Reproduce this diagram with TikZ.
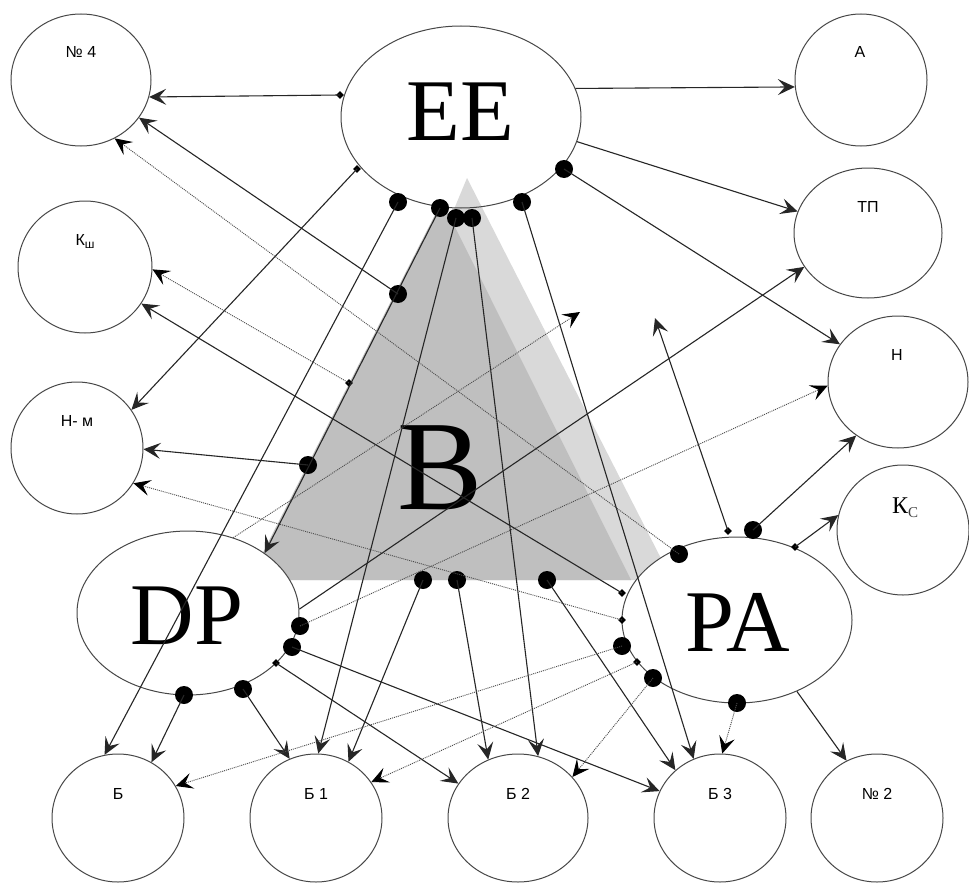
\documentclass[tikz,border=0pt]{standalone}
\usepackage{fontspec}
\setmainfont{Liberation Serif}
\newfontfamily\labfont{Liberation Sans}
\usetikzlibrary{arrows.meta,shapes.geometric}
\begin{document}
\begin{tikzpicture}[x=1pt,y=-1pt,
  ell/.style={ellipse,draw=black!72,line width=1pt,inner sep=0pt},
  bigdot/.style={circle,fill=black,inner sep=0pt,minimum size=18pt},
  dmd/.style={diamond,fill=black,inner sep=0pt,minimum size=8pt},
  conn/.style={draw=black!85,line width=1.1pt,-{Stealth[length=17pt,width=16pt,inset=7pt]}},
  dconn/.style={draw=black!70,line width=0.9pt,dash pattern=on 1pt off 1pt,-{Stealth[length=17pt,width=16pt,inset=7pt,black]}},
  sm/.style={font=\labfont\fontsize{16}{16}\selectfont,anchor=base,inner sep=0pt},
  bigtxt/.style={font=\fontsize{88}{88}\selectfont,anchor=base,inner sep=0pt}
]
\fill[white] (0,0) rectangle (969,883);
\useasboundingbox (0,0) rectangle (969,883);
% triangles
\fill[black!15] (467,178) -- (672,580) -- (300,580) -- cycle;
\fill[black!25] (442,201) -- (631,580) -- (249,580) -- cycle;
% ellipses / circles
\node[ell,minimum width=240pt,minimum height=182pt] (EE) at (461,117) {};
\node[ell,minimum width=140pt,minimum height=132pt] (n4) at (81,80) {};
\node[ell,minimum width=134pt,minimum height=132pt] (ksh) at (85,267) {};
\node[ell,minimum width=132pt,minimum height=132pt] (nm) at (77,448) {};
\node[ell,fill=white,minimum width=222pt,minimum height=164pt] (DP) at (188,613) {};
\node[ell,fill=white,minimum width=230pt,minimum height=166pt] (PA) at (737,620) {};
\node[ell,minimum width=132pt,minimum height=128pt] (b) at (118,818) {};
\node[ell,minimum width=132pt,minimum height=128pt] (b1) at (316,818) {};
\node[ell,minimum width=140pt,minimum height=128pt] (b2) at (518,818) {};
\node[ell,minimum width=132pt,minimum height=128pt] (b3) at (720,818) {};
\node[ell,minimum width=132pt,minimum height=128pt] (n2) at (877,818) {};
\node[ell,minimum width=132pt,minimum height=130pt] (kc) at (903,530) {};
\node[ell,minimum width=140pt,minimum height=132pt] (nh) at (898,382) {};
\node[ell,minimum width=148pt,minimum height=130pt] (tp) at (868,233) {};
\node[ell,minimum width=132pt,minimum height=132pt] (a) at (861,80) {};
% big labels
\node[bigtxt] (tEE) at (460,140) {EE};
\node[bigtxt] (tDP) at (187,644) {DP};
\node[bigtxt] (tPA) at (738,651) {PA};
\node[bigtxt,font=\fontsize{128}{128}\selectfont] (tB) at (440,509) {B};
% small labels
\node[sm] (ln4) at (81,58) {№ 4};
\node[sm] (la) at (860,58) {А};
\node[sm] (ltp) at (868,212) {ТП};
\node[sm] (lnh) at (897,360) {Н};
\node[anchor=base,inner sep=0pt] (lkc) at (905,513) {{\fontsize{24}{24}\selectfont К}{\fontsize{15}{15}\selectfont\color{black!75}\raisebox{-4pt}{C}}};
\node[sm] (lksh) at (85,245) {К\raisebox{-3pt}{\fontsize{12}{12}\selectfont ш}};
\node[sm] (lnm) at (77,426) {Н- м};
\node[sm] (lb) at (118,799) {Б};
\node[sm] (lb1) at (316,799) {Б 1};
\node[sm] (lb2) at (518,799) {Б 2};
\node[sm] (lb3) at (720,799) {Б 3};
\node[sm] (ln2) at (877,799) {№ 2};
% markers
\node[dmd] (eD1) at (340,95) {};
\node[dmd] (eD2) at (357,169) {};
\node[bigdot] (eB1) at (564,169) {};
\node[bigdot] (eB2) at (398,202) {};
\node[bigdot] (eB3) at (440,208) {};
\node[bigdot] (eB4) at (456,218) {};
\node[bigdot] (eB5) at (472,218) {};
\node[bigdot] (eB6) at (522,202) {};
\node[bigdot] (tB1) at (398,294) {};
\node[dmd] (tD1) at (349,383) {};
\node[bigdot] (tB2) at (308,465) {};
\node[bigdot] (tB3) at (423,580) {};
\node[bigdot] (tB4) at (457,580) {};
\node[bigdot] (tB5) at (547,580) {};
\node[bigdot] (dB1) at (300,626) {};
\node[bigdot] (dB2) at (292,647) {};
\node[dmd] (dD1) at (276,663) {};
\node[bigdot] (dB3) at (243,689) {};
\node[bigdot] (dB4) at (184,695) {};
\node[bigdot] (pB1) at (679,554) {};
\node[dmd] (pD1) at (728,531) {};
\node[bigdot] (pB2) at (753,530) {};
\node[dmd] (pD2) at (795,547) {};
\node[dmd] (pD3) at (622,593) {};
\node[dmd] (pD4) at (622,620) {};
\node[bigdot] (pB3) at (622,646) {};
\node[dmd] (pD5) at (637,662) {};
\node[bigdot] (pB4) at (653,678) {};
\node[bigdot] (pB5) at (737,703) {};
\coordinate (fr1) at (580,312);
\coordinate (fr2) at (655,318);
% solid connectors
\draw[conn] (eD1.center) -- (n4.-14);
\draw[conn] (EE.14) -- (a.186);
\draw[conn] (EE.-12) -- (tp.163);
\draw[conn] (eB1.center) -- (nh.147);
\draw[conn] (eD2.center) -- (nm.35);
\draw[conn] (eB2.center) -- (b.102);
\draw[conn] (eB3.center) -- (DP.38);
\draw[conn] (tB1.center) -- (n4.-33);
\draw[conn] (tB2.center) -- (nm.-1);
\draw[conn] (eB4.center) -- (b1.88);
\draw[conn] (eB5.center) -- (b2.72);
\draw[conn] (eB6.center) -- (b3.114);
\draw[conn] (tB3.center) -- (b1.60);
\draw[conn] (tB4.center) -- (b2.117);
\draw[conn] (tB5.center) -- (b3.133);
\draw[conn] (DP.2) -- (tp.208);
\draw[conn] (dB2.center) -- (b3.156);
\draw[conn] (dD1.center) -- (b2.150);
\draw[conn] (dB3.center) -- (b1.114);
\draw[conn] (dB4.center) -- (b.59);
\draw[conn] (pD3.center) -- (ksh.-33);
\draw[conn] (pD1.center) -- (fr2);
\draw[conn] (pB2.center) -- (nh.-128);
\draw[conn] (pD2.center) -- (kc.167);
\draw[conn] (PA.-50) -- (n2.118);
% dotted connectors
\draw[dconn] (pB1.center) -- (n4.-60);
\draw[dconn] (tD1.center) -- (ksh.-2);
\draw[dconn] (pD4.center) -- (nm.-32);
\draw[dconn] (dB1.center) -- (nh.183);
\draw[dconn] (DP.59) -- (fr1);
\draw[dconn] (pB3.center) -- (b.29);
\draw[dconn] (pD5.center) -- (b1.33);
\draw[dconn] (pB4.center) -- (b2.37);
\draw[dconn] (pB5.center) -- (b3.88);
\end{tikzpicture}
\end{document}
